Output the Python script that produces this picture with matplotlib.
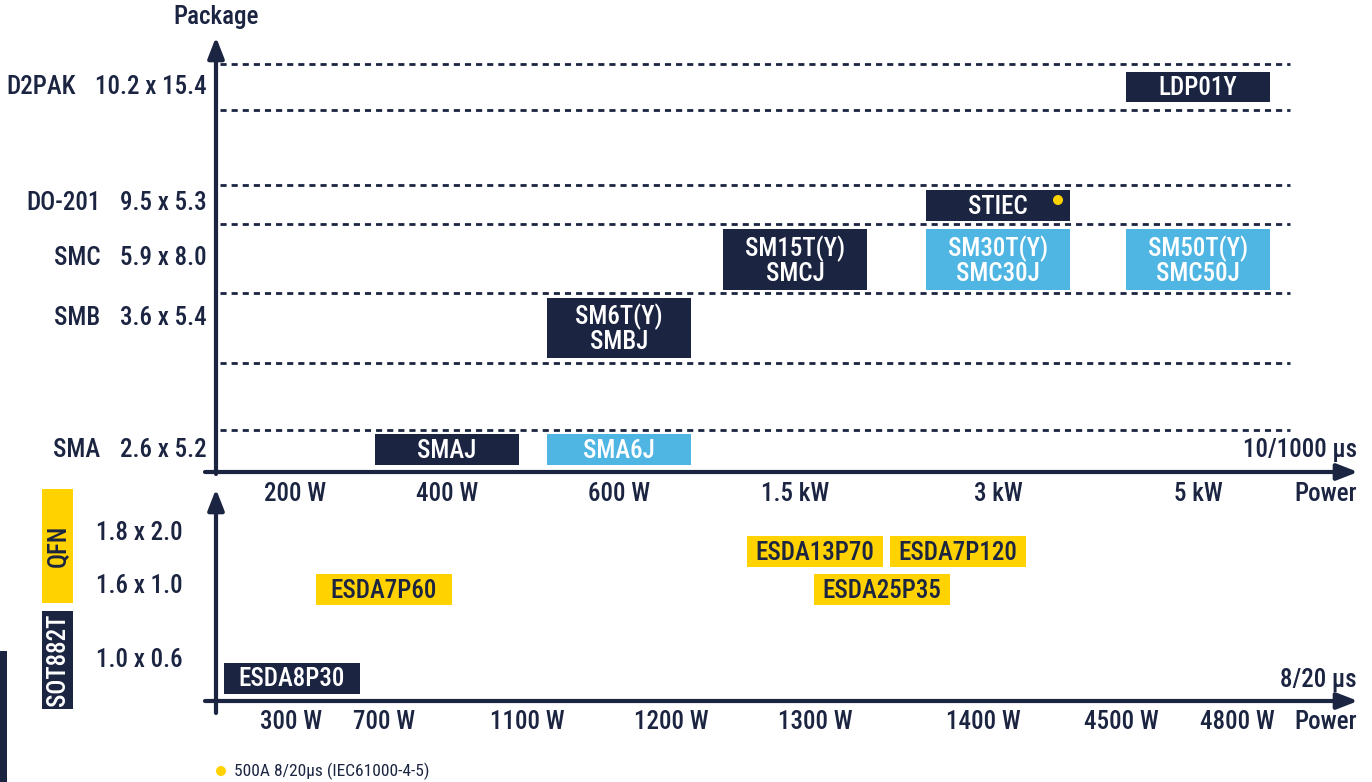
import matplotlib
matplotlib.use("Agg")
import matplotlib.pyplot as plt
from matplotlib.patches import Rectangle, Circle

plt.rcParams["font.family"] = ["Roboto Condensed", "Archivo Narrow", "Liberation Sans", "DejaVu Sans"]
plt.rcParams["font.weight"] = "medium"

NAVY = "#1b2441"
BLUE = "#4fb5e3"
YELLOW = "#ffd200"

# ---- data: 10/1000 us (TVS) ----
tvs_power = ["200 W", "400 W", "600 W", "1.5 kW", "3 kW", "5 kW"]
tvs_pkg = ["D2PAK", "DO-201", "SMC", "SMB", "SMA"]
tvs_pkg_dim = ["10.2 x 15.4", "9.5 x 5.3", "5.9 x 8.0", "3.6 x 5.4", "2.6 x 5.2"]
tvs_names = ["LDP01Y", "STIEC", "SM15T(Y)\nSMCJ", "SM30T(Y)\nSMC30J",
             "SM50T(Y)\nSMC50J", "SM6T(Y)\nSMBJ", "SMAJ", "SMA6J"]
tvs_at_power = ["5 kW", "3 kW", "1.5 kW", "3 kW", "5 kW", "600 W", "400 W", "600 W"]
tvs_at_pkg = ["D2PAK", "DO-201", "SMC", "SMC", "SMC", "SMB", "SMA", "SMA"]
tvs_kind = ["dark", "dark", "dark", "light", "light", "dark", "dark", "light"]
tvs_flag = ["STIEC"]

# ---- data: 8/20 us (ESD) ----
esd_power = ["300 W", "700 W", "1100 W", "1200 W", "1300 W", "1400 W", "4500 W", "4800 W"]
esd_dim = ["1.8 x 2.0", "1.6 x 1.0", "1.0 x 0.6"]
esd_names = ["ESDA13P70", "ESDA7P120", "ESDA7P60", "ESDA25P35", "ESDA8P30"]
esd_at_dim = ["1.8 x 2.0", "1.8 x 2.0", "1.6 x 1.0", "1.6 x 1.0", "1.0 x 0.6"]
esd_kind = ["yellow", "yellow", "yellow", "yellow", "dark"]
footnote = "500A 8/20µs (IEC61000-4-5)"

# ---- layout (pixels) ----
tvs_col_x = [295, 447, 619, 795, 998, 1198]
tvs_row_box = [(72, 102), (190, 221), (229, 290), (298, 358), (434, 465)]
tvs_row_lab = [87, 203, 258, 318, 450]
dash_y = [64, 110, 185, 224, 293, 363, 430]
esd_col_x = [291, 384, 527, 671, 815, 983, 1121, 1237]
esd_box_x = [815, 958, 384, 882, 292]
esd_row_box = [(536, 567), (574, 605), (663, 694)]
esd_row_lab = [533, 586, 660]
AX_X = 216
UP_Y = 472
LO_Y = 701

fig = plt.figure(figsize=(13.72, 7.82), dpi=100)
ax = fig.add_axes([0, 0, 1, 1])
ax.set_xlim(0, 1372)
ax.set_ylim(782, 0)
ax.axis("off")

FS = 18
fill = {"dark": NAVY, "light": BLUE, "yellow": YELLOW}
ink = {"dark": "white", "light": "white", "yellow": NAVY}


def box(cx, y0, y1, w, txt, kind):
    ax.add_patch(Rectangle((cx - w / 2, y0), w, y1 - y0, color=fill[kind], lw=0))
    ax.text(cx, (y0 + y1) / 2 + 1, txt, ha="center", va="center", fontsize=FS,
            color=ink[kind], linespacing=1.0)


def arrow(x0, y0, x1, y1):
    ax.annotate("", xy=(x1, y1), xytext=(x0, y0),
                arrowprops=dict(arrowstyle="-|>,head_length=0.9,head_width=0.35",
                                color=NAVY, lw=3, shrinkA=0, shrinkB=0,
                                mutation_scale=14))


# dashed guides
for y in dash_y:
    ax.plot([220, 1290], [y, y], color=NAVY, lw=2, dashes=(2.2, 1.8))

# axes
arrow(AX_X, UP_Y + 2, AX_X, 37)
arrow(205, UP_Y, 1358, UP_Y)
arrow(AX_X, 713, AX_X, 489)
arrow(205, LO_Y, 1358, LO_Y)

ax.text(AX_X, 17, "Package", ha="center", va="center", fontsize=FS, color=NAVY)
ax.text(1357, 450, "10/1000 µs", ha="right", va="center", fontsize=FS, color=NAVY)
ax.text(1357, 680, "8/20 µs", ha="right", va="center", fontsize=FS, color=NAVY)
ax.text(1357, 494, "Power", ha="right", va="center", fontsize=FS, color=NAVY)
ax.text(1357, 722, "Power", ha="right", va="center", fontsize=FS, color=NAVY)

# upper rows and ticks
for pkg, dim, yl in zip(tvs_pkg, tvs_pkg_dim, tvs_row_lab):
    t = ax.text(207, yl, dim, ha="right", va="center", fontsize=FS, color=NAVY)
    ax.annotate(pkg, xy=(0, 0.5), xycoords=t, xytext=(-20, 0),
                textcoords="offset pixels", ha="right", va="center",
                fontsize=FS, color=NAVY)
for lab, x in zip(tvs_power, tvs_col_x):
    ax.text(x, 494, lab, ha="center", va="center", fontsize=FS, color=NAVY)

for name, pw, pk, kind in zip(tvs_names, tvs_at_power, tvs_at_pkg, tvs_kind):
    cx = tvs_col_x[tvs_power.index(pw)]
    y0, y1 = tvs_row_box[tvs_pkg.index(pk)]
    box(cx, y0, y1, 144, name, kind)
    if name in tvs_flag:
        ax.add_patch(Circle((cx + 60, y0 + 10), 5, color=YELLOW, lw=0))

# lower rows and ticks
for dim, yl in zip(esd_dim, esd_row_lab):
    ax.text(139, yl, dim, ha="center", va="center", fontsize=FS, color=NAVY)
for lab, x in zip(esd_power, esd_col_x):
    ax.text(x, 722, lab, ha="center", va="center", fontsize=FS, color=NAVY)
for name, cx, dm, kind in zip(esd_names, esd_box_x, esd_at_dim, esd_kind):
    y0, y1 = esd_row_box[esd_dim.index(dm)]
    box(cx, y0, y1, 136, name, kind)

# package family tags
ax.add_patch(Rectangle((42, 489), 31, 114, color=YELLOW, lw=0))
ax.text(58, 546, "QFN", rotation=90, ha="center", va="center", fontsize=FS, color=NAVY)
ax.add_patch(Rectangle((42, 611), 31, 98, color=NAVY, lw=0))
ax.text(58, 660, "SOT882T", rotation=90, ha="center", va="center", fontsize=FS, color="white")
ax.add_patch(Rectangle((0, 651), 7, 131, color=NAVY, lw=0))

# footnote
ax.add_patch(Circle((221, 771), 5, color=YELLOW, lw=0))
ax.text(234, 771, footnote, ha="left", va="center", fontsize=12.5,
        fontweight="normal", color=NAVY)

fig.savefig("out.png", dpi=100)
